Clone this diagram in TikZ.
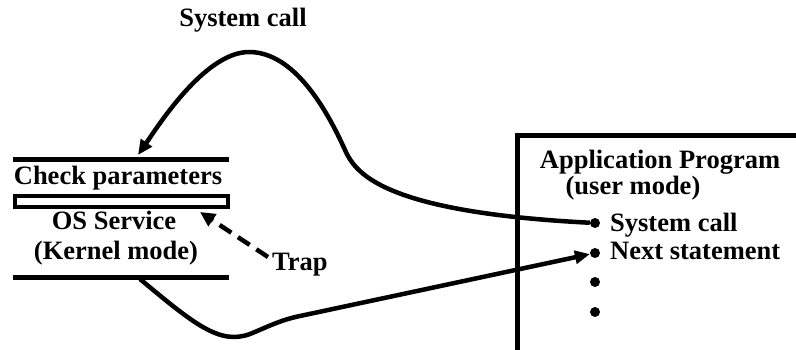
\documentclass[tikz,border=0pt]{standalone}
\usepackage{fontspec}
\setmainfont{Liberation Serif}
\usetikzlibrary{arrows.meta}
\begin{document}
\begin{tikzpicture}[x=1pt,y=1pt,
  lbl/.style={font=\fontsize{26.5}{28}\selectfont\bfseries, inner sep=0pt, text height=18pt, text depth=6pt},
  bar/.style={line width=5pt},
  conn/.style={line width=4.5pt, -{Triangle[length=15pt,width=13pt]}},
  dashconn/.style={line width=4.5pt, dash pattern=on 14pt off 8pt, -{Triangle[length=15pt,width=14pt]}},
  dot/.style={circle, fill, inner sep=0pt, minimum size=10pt}]
\useasboundingbox (0,0) rectangle (796,-349);
% left stack
\coordinate (tl) at (13,-159); \coordinate (tr) at (229,-159);
\coordinate (bl) at (13,-277); \coordinate (br) at (229,-277);
\draw[bar] (tl) -- (tr);
\draw[bar] (bl) -- (br);
\node[draw, line width=4.5pt, minimum width=213pt, minimum height=11pt, inner sep=0pt] (sep) at (121.5,-201.5) {};
\node[lbl] (check) at (118,-178) {Check parameters};
\node[lbl] (os) at (114,-223) {OS Service};
\node[lbl] (kern) at (116,-253) {(Kernel mode)};
\node[lbl, anchor=west] (trap) at (272,-264) {Trap};
% right box
\coordinate (boxbl) at (517,-352); \coordinate (boxtl) at (517,-135); \coordinate (boxtr) at (800,-135);
\draw[line width=5pt] (boxbl) -- (boxtl) -- (boxtr);
\node[lbl] (app) at (660,-162) {Application Program};
\node[lbl] (user) at (633,-188) {(user mode)};
\node[dot] (b1) at (595,-223) {};
\node[dot] (b2) at (595,-253) {};
\node[dot] (b3) at (595,-282) {};
\node[dot] (b4) at (595,-312) {};
\node[lbl, anchor=west] (sc) at (610,-225) {System call};
\node[lbl, anchor=west] (ns) at (610,-253) {Next statement};
% top label
\node[lbl] (syslbl) at (243,-20) {System call};
% system call curve
\coordinate (tip1) at (138,-155);
\draw[conn] (b1) .. controls (380,-212) and (355,-172) .. (345,-150)
  .. controls (326.5,-109) and (294,-52) .. (249,-52)
  .. controls (205,-52) and (158,-126) .. (tip1);
% return curve
\coordinate (kstart) at (140,-279);
\draw[conn] (kstart) .. controls (195,-325) and (220,-345) .. (250,-334)
  .. controls (265,-328) and (280,-320) .. (300,-316) -- (b2);
% trap
\coordinate (trapstart) at (268,-257);
\coordinate (traptip) at (200,-212);
\draw[dashconn] (trapstart) -- (traptip);
\end{tikzpicture}
\end{document}
